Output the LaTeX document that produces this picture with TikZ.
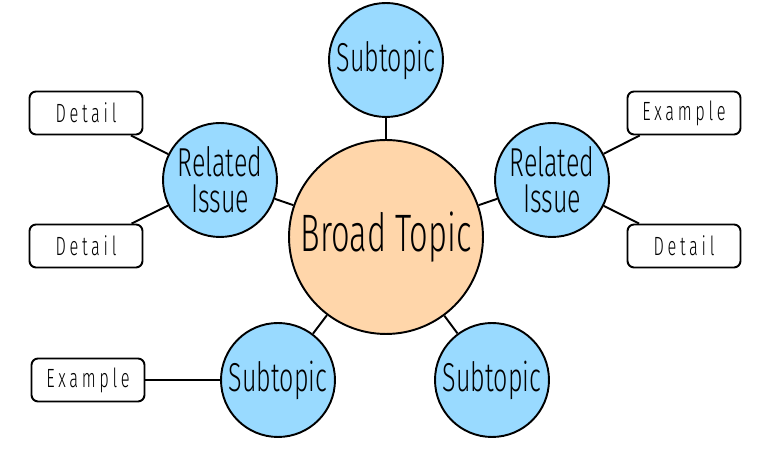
\documentclass[tikz,border=0pt]{standalone}
\usepackage{fontspec}
\setmainfont[FakeStretch=0.62,UprightFont=* Light]{Fira Sans}
\newfontfamily\boxfont[FakeStretch=0.62,LetterSpace=14,UprightFont=* Light]{Fira Sans}
\usepackage{tikz}
\usetikzlibrary{positioning}
\definecolor{topicfill}{HTML}{FFD6AA}
\definecolor{subfill}{HTML}{99DAFF}

\begin{document}
\begin{tikzpicture}[
  x=0.02cm, y=-0.02cm,
  every node/.style={line width=1.1pt},
  topic/.style={draw, circle, fill=topicfill, minimum size=3.88cm, inner sep=0pt, font=\fontsize{30}{32}\selectfont},
  subtopic/.style={draw, circle, fill=subfill, minimum size=2.28cm, inner sep=0pt, align=center, font=\fontsize{23}{20.5}\selectfont},
  detailbox/.style={draw, rounded corners=0.13cm, fill=white, minimum width=2.26cm, minimum height=0.86cm, inner sep=0pt, font=\boxfont\fontsize{15}{15}\selectfont},
  link/.style={line width=1.1pt},
]
\useasboundingbox (0,0) rectangle (762,465);

\node[topic] (broad) at (386,237) {Broad Topic};

\node[subtopic] (top) at (386,60) {Subtopic};
\node[subtopic] (relL) at (220,180) {Related\\Issue};
\node[subtopic] (relR) at (552,180) {Related\\Issue};
\node[subtopic] (subL) at (278,380) {Subtopic};
\node[subtopic] (subR) at (492,380) {Subtopic};

\node[detailbox] (detLa) at (86,113) {Detail};
\node[detailbox] (detLb) at (86,246) {Detail};
\node[detailbox] (exL) at (88,380) {Example};
\node[detailbox] (exR) at (684,113) {Example};
\node[detailbox] (detR) at (684,246) {Detail};

% spokes from the broad topic
\draw[link] (broad) -- (top);
\draw[link] (broad) -- (relL);
\draw[link] (broad) -- (relR);
\draw[link] (broad) -- (subL);
\draw[link] (broad) -- (subR);

% leaves
\draw[link] (relL) -- (detLa);
\draw[link] (relL) -- (detLb);
\draw[link] (subL) -- (exL);
\draw[link] (relR) -- (exR);
\draw[link] (relR) -- (detR);
\end{tikzpicture}
\end{document}
